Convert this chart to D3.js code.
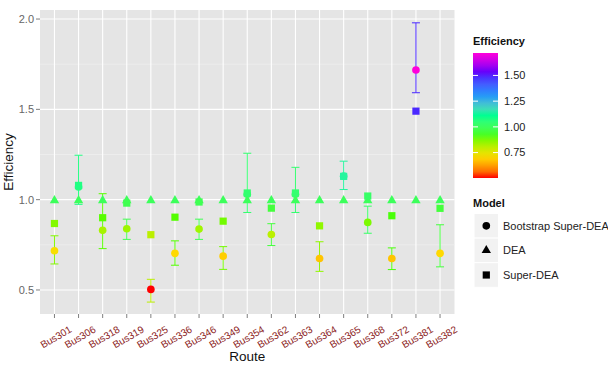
<!DOCTYPE html>
<html lang="en">
<head>
<meta charset="utf-8">
<title>Efficiency by route</title>
<script src="https://d3js.org/d3.v7.min.js"></script>
<style>
  body { margin: 0; background: #fff; }
  text { font-family: Arial, "Liberation Sans", sans-serif; }
</style>
</head>
<body>
<script>
// data
var routes = ['Bus301','Bus306','Bus318','Bus319','Bus325','Bus336','Bus346','Bus349','Bus354',
              'Bus362','Bus363','Bus364','Bus365','Bus368','Bus372','Bus381','Bus382'];
var dea      = [1,1,1,1,1,1,1,1,1,1,1,1,1,1,1,1,1];
var superDea = [0.868,1.079,0.900,0.981,0.806,0.903,0.987,0.881,1.037,0.953,1.037,0.855,1.129,1.020,0.911,1.490,0.952];
var boot     = [0.717,1.070,0.830,0.839,0.503,0.703,0.837,0.687,1.030,0.807,1.030,0.674,1.130,0.874,0.674,1.718,0.703];
var bootLo   = [0.644,0.974,0.729,0.780,0.433,0.637,0.780,0.614,0.929,0.746,0.929,0.603,1.056,0.814,0.613,1.592,0.628];
var bootHi   = [0.800,1.246,1.033,0.892,0.559,0.772,0.892,0.740,1.257,0.867,1.179,0.767,1.213,0.964,0.733,1.979,0.861];
var yTicks = [0.5, 1.0, 1.5, 2.0];
var yMinor = [0.75, 1.25, 1.75];
var legendTicks = [0.75, 1.00, 1.25, 1.50];
var models = ['Bootstrap Super-DEA', 'DEA', 'Super-DEA'];
var rainbow = ['#FF0000','#FFDB00','#49FF00','#00FF92','#0092FF','#4900FF','#FF00DB'];

var width = 608, height = 367;
var panel = { left: 40, right: 454.5, top: 10, bottom: 314 };

var svg = d3.select('body').append('svg')
  .attr('width', width)
  .attr('height', height);

var x = d3.scalePoint()
  .domain(routes)
  .range([panel.left, panel.right])
  .padding(0.6);

var y = d3.scaleLinear()
  .domain([0.367, 2.05])
  .range([panel.bottom, panel.top]);

// colour gradient, rainbow between min and max of mapped values
var cmin = d3.min(boot.concat(superDea, dea));
var cmax = d3.max(boot.concat(superDea, dea));
var colour = d3.scaleLinear()
  .domain(rainbow.map(function(d, i) { return cmin + (cmax - cmin) * i / (rainbow.length - 1); }))
  .range(rainbow)
  .interpolate(d3.interpolateLab);

// panel background and grid
svg.append('rect')
  .attr('x', panel.left).attr('y', panel.top)
  .attr('width', panel.right - panel.left).attr('height', panel.bottom - panel.top)
  .attr('fill', '#E5E5E5');

svg.selectAll('.minor').data(yMinor).enter().append('line')
  .attr('x1', panel.left).attr('x2', panel.right)
  .attr('y1', y).attr('y2', y)
  .attr('stroke', '#F2F2F2').attr('stroke-width', 0.6);

svg.selectAll('.hgrid').data(yTicks).enter().append('line')
  .attr('x1', panel.left).attr('x2', panel.right)
  .attr('y1', y).attr('y2', y)
  .attr('stroke', '#fff').attr('stroke-width', 1.1);

svg.selectAll('.vgrid').data(routes).enter().append('line')
  .attr('x1', x).attr('x2', x)
  .attr('y1', panel.top).attr('y2', panel.bottom)
  .attr('stroke', '#fff').attr('stroke-width', 1.1);

// axes
var yAxis = svg.append('g');
yAxis.selectAll('line').data(yTicks).enter().append('line')
  .attr('x1', panel.left - 4).attr('x2', panel.left)
  .attr('y1', y).attr('y2', y)
  .attr('stroke', '#7F7F7F');
yAxis.selectAll('text').data(yTicks).enter().append('text')
  .attr('x', panel.left - 6).attr('y', y).attr('dy', '0.35em')
  .attr('text-anchor', 'end')
  .attr('font-size', 11).attr('fill', '#666')
  .text(function(d) { return d3.format('.1f')(d); });

var xAxis = svg.append('g');
xAxis.selectAll('line').data(routes).enter().append('line')
  .attr('x1', x).attr('x2', x)
  .attr('y1', panel.bottom).attr('y2', panel.bottom + 4)
  .attr('stroke', '#7F7F7F');
xAxis.selectAll('text').data(routes).enter().append('text')
  .attr('transform', function(d) { return 'translate(' + (x(d) + 1.5) + ',337) rotate(-30)'; })
  .attr('text-anchor', 'middle').attr('dy', '0.35em')
  .attr('font-size', 10).attr('fill', '#8B2323')
  .text(function(d) { return d; });

svg.append('text')
  .attr('x', (panel.left + panel.right) / 2).attr('y', 361)
  .attr('text-anchor', 'middle').attr('font-size', 13.5).attr('fill', '#111')
  .text('Route');

svg.append('text')
  .attr('transform', 'translate(13,' + (panel.top + panel.bottom) / 2 + ') rotate(-90)')
  .attr('text-anchor', 'middle').attr('font-size', 13.5).attr('fill', '#111')
  .text('Efficiency');

// error bars coloured by Super-DEA
var eb = svg.append('g');
routes.forEach(function(r, i) {
  var c = colour(superDea[i]);
  var g = eb.append('g').attr('stroke', c).attr('stroke-width', 1);
  g.append('line').attr('x1', x(r)).attr('x2', x(r)).attr('y1', y(bootLo[i])).attr('y2', y(bootHi[i]));
  g.append('line').attr('x1', x(r) - 4).attr('x2', x(r) + 4).attr('y1', y(bootLo[i])).attr('y2', y(bootLo[i]));
  g.append('line').attr('x1', x(r) - 4).attr('x2', x(r) + 4).attr('y1', y(bootHi[i])).attr('y2', y(bootHi[i]));
});

// points
var circleSym = d3.symbol().type(d3.symbolCircle).size(46);
var triSym = d3.symbol().type(d3.symbolTriangle).size(38);
var sqSym = d3.symbol().type(d3.symbolSquare).size(52);

svg.append('g').selectAll('path').data(boot).enter().append('path')
  .attr('d', circleSym)
  .attr('transform', function(d, i) { return 'translate(' + x(routes[i]) + ',' + y(d) + ')'; })
  .attr('fill', function(d) { return colour(d); });

svg.append('g').selectAll('path').data(dea).enter().append('path')
  .attr('d', triSym)
  .attr('transform', function(d, i) { return 'translate(' + x(routes[i]) + ',' + (y(d) + 0.8) + ')'; })
  .attr('fill', function(d) { return colour(d); });

svg.append('g').selectAll('path').data(superDea).enter().append('path')
  .attr('d', sqSym)
  .attr('transform', function(d, i) { return 'translate(' + x(routes[i]) + ',' + y(d) + ')'; })
  .attr('fill', function(d) { return colour(d); });

// colour legend
var lx = 473;
svg.append('text').attr('x', lx).attr('y', 45)
  .attr('font-size', 11).attr('font-weight', 'bold').attr('fill', '#111')
  .text('Efficiency');

var barY = d3.scaleLinear().domain([cmin, cmax]).range([178, 53]);
var defs = svg.append('defs');
var grad = defs.append('linearGradient').attr('id', 'cbar')
  .attr('x1', 0).attr('x2', 0).attr('y1', 1).attr('y2', 0);
d3.range(0, 21).forEach(function(k) {
  var v = cmin + (cmax - cmin) * k / 20;
  grad.append('stop').attr('offset', k / 20).attr('stop-color', colour(v));
});
svg.append('rect')
  .attr('x', lx).attr('y', barY(cmax))
  .attr('width', 25).attr('height', barY(cmin) - barY(cmax))
  .attr('fill', 'url(#cbar)');
var lt = svg.append('g');
lt.selectAll('.l').data(legendTicks).enter().append('line')
  .attr('x1', lx).attr('x2', lx + 5).attr('y1', barY).attr('y2', barY)
  .attr('stroke', '#fff');
lt.selectAll('.r').data(legendTicks).enter().append('line')
  .attr('x1', lx + 20).attr('x2', lx + 25).attr('y1', barY).attr('y2', barY)
  .attr('stroke', '#fff');
lt.selectAll('text').data(legendTicks).enter().append('text')
  .attr('x', lx + 31).attr('y', barY).attr('dy', '0.35em')
  .attr('font-size', 11).attr('fill', '#222')
  .text(function(d) { return d3.format('.2f')(d); });

// shape legend
svg.append('text').attr('x', lx).attr('y', 207)
  .attr('font-size', 11).attr('font-weight', 'bold').attr('fill', '#111')
  .text('Model');
var keySyms = [circleSym, triSym, sqSym];
var key = svg.append('g').selectAll('g').data(models).enter().append('g')
  .attr('transform', function(d, i) { return 'translate(' + lx + ',' + (213.5 + i * 24.6) + ')'; });
key.append('rect')
  .attr('x', 1).attr('width', 24.6).attr('height', 24.6)
  .attr('fill', '#F2F2F2').attr('stroke', '#fff');
key.append('path')
  .attr('d', function(d, i) { return keySyms[i](); })
  .attr('transform', 'translate(13.3,12.3)')
  .attr('fill', '#000');
key.append('text')
  .attr('x', 30).attr('y', 12.3).attr('dy', '0.35em')
  .attr('font-size', 11).attr('fill', '#222')
  .text(function(d) { return d; });
</script>
</body>
</html>
